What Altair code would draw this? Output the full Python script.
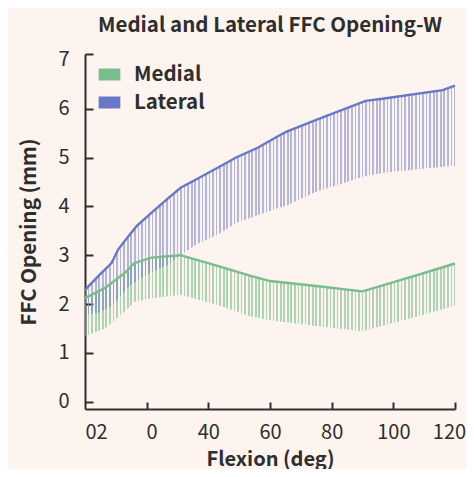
import altair as alt
import pandas as pd

# ---- data ----
series_names = ["Medial", "Lateral"]
series_colors = ["#78bd8b", "#6878c6"]

flexion_medial = [0, 6.5, 13, 16, 21.6, 31, 43, 53.5, 60, 75, 90, 105, 120]
medial_upper = [2.12, 2.33, 2.64, 2.84, 2.95, 3.0, 2.78, 2.58, 2.47, 2.37, 2.26, 2.54, 2.83]
medial_lower = [1.34, 1.50, 1.85, 2.04, 2.12, 2.19, 1.98, 1.75, 1.67, 1.55, 1.44, 1.70, 1.97]

flexion_lateral = [0, 4.3, 8.6, 10.8, 14.1, 16.8, 21.6, 27, 31, 36, 43, 49, 56, 63, 65.4, 75, 91, 97, 116, 120]
lateral_upper = [2.29, 2.57, 2.84, 3.12, 3.39, 3.60, 3.87, 4.17, 4.38, 4.55, 4.79, 5.0, 5.2, 5.45, 5.53, 5.77, 6.16, 6.21, 6.38, 6.47]
lateral_lower = [1.78, 1.82, 1.95, 2.1, 2.35, 2.47, 2.65, 2.81, 3.0, 3.22, 3.42, 3.66, 3.82, 3.97, 4.02, 4.3, 4.62, 4.69, 4.81, 4.83]

x_tick_values = [0, 20, 40, 60, 80, 100, 120]
x_tick_labels = ["02", "0", "40", "60", "80", "100", "120"]
y_tick_values = [0, 1, 2, 3, 4, 5, 6, 7]

# ---- styling ----
X_DOMAIN = [0, 120]
Y_DOMAIN = [-0.15, 7.12]
W, H = 370, 355
FONT = "Noto Sans CJK SC"
INK = "#2e2e2e"
BG = "#fdf4ef"
N_STRIPES = 104
STRIPE_HALF = 0.85 / W
TICK_FS = 20
TITLE_FS = 20.5

df = pd.concat([
    pd.DataFrame({"flex": flexion_medial, "upper": medial_upper, "lower": medial_lower, "series": series_names[0]}),
    pd.DataFrame({"flex": flexion_lateral, "upper": lateral_upper, "lower": lateral_lower, "series": series_names[1]}),
], ignore_index=True)


def stripes(color):
    stops = []
    for k in range(N_STRIPES + 1):
        c = k / N_STRIPES
        a = max(0.0, c - STRIPE_HALF)
        b = min(1.0, c + STRIPE_HALF)
        stops += [
            alt.GradientStop(offset=a, color="transparent"),
            alt.GradientStop(offset=a, color=color),
            alt.GradientStop(offset=b, color=color),
            alt.GradientStop(offset=b, color="transparent"),
        ]
    return alt.LinearGradient(gradient="linear", stops=stops, x1=0, x2=1, y1=0, y2=0)


label_expr = "''"
for v, t in reversed(list(zip(x_tick_values, x_tick_labels))):
    label_expr = f"datum.value == {v} ? '{t}' : ({label_expr})"

x_main = alt.X(
    "flex:Q",
    scale=alt.Scale(domain=X_DOMAIN, nice=False, zero=False),
    axis=alt.Axis(
        values=x_tick_values, labelExpr=label_expr, labelFlush=False,
        labelAlign={"condition": {"test": "datum.value == 0", "value": "left"}, "value": "center"},
        labelOffset={"condition": [{"test": "datum.value == 20", "value": 5},
                                   {"test": "datum.value == 120", "value": -6}], "value": 0},
        ticks=False, grid=False, domainColor=INK, domainWidth=2,
        labelFont=FONT, labelFontSize=TICK_FS, labelColor=INK, labelPadding=13,
        title="Flexion (deg)", titleFont=FONT, titleFontSize=20, titleFontWeight="bold",
        titleColor=INK, titlePadding=7,
    ),
)
y_main_axis = alt.Axis(
    values=y_tick_values, ticks=False, grid=False, domainColor=INK, domainWidth=2,
    labelFont=FONT, labelFontSize=TICK_FS, labelColor=INK, labelPadding=16, labelFlush=False,
    title="FFC Opening (mm)", titleFont=FONT, titleFontSize=TITLE_FS, titleFontWeight="bold",
    titleColor=INK, titlePadding=18,
)
y_scale = alt.Scale(domain=Y_DOMAIN, nice=False, zero=False)

base = alt.Chart(df)

areas = []
for name, color, op in zip(series_names, series_colors, [0.6, 0.5]):
    areas.append(
        base.transform_filter(alt.datum.series == name)
        .mark_area(fill=stripes(color), fillOpacity=op, strokeWidth=0)
        .encode(x=x_main, y=alt.Y("upper:Q", scale=y_scale, axis=y_main_axis), y2="lower:Q")
    )

lines = base.mark_line(strokeWidth=2.4).encode(
    x=x_main,
    y=alt.Y("upper:Q", scale=y_scale, axis=y_main_axis),
    color=alt.Color(
        "series:N",
        scale=alt.Scale(domain=series_names, range=series_colors),
        legend=alt.Legend(
            title=None, orient="none", legendX=11, legendY=7, padding=0,
            symbolType="M-1,-0.33H1M-1,0H1M-1,0.33H1", symbolSize=470, symbolStrokeWidth=5,
            symbolOpacity=1,
            labelFont=FONT, labelFontSize=TITLE_FS, labelFontWeight="bold", labelColor=INK,
            labelOffset=11, rowPadding=-2,
        ),
    ),
    detail="series:N",
)

inner = alt.layer(*areas, lines)

tick_layer = base.mark_line(opacity=0).encode(
    x=alt.X("flex:Q", scale=alt.Scale(domain=X_DOMAIN, nice=False, zero=False),
            axis=alt.Axis(orient="top", offset=-H, values=x_tick_values[1:], labels=False, domain=False,
                          ticks=True, tickSize=7, tickWidth=2, tickColor=INK, grid=False, title=None)),
    y=alt.Y("upper:Q", scale=alt.Scale(domain=Y_DOMAIN, nice=False, zero=False),
            axis=alt.Axis(orient="right", offset=-W, values=y_tick_values[:-1] + [Y_DOMAIN[1]], labels=False,
                          domain=False, ticks=True, tickSize=8, tickWidth=2, tickColor=INK, grid=False,
                          title=None)),
    detail="series:N",
)

chart = (
    alt.layer(inner, tick_layer)
    .resolve_scale(x="independent", y="independent")
    .properties(
        width=W, height=H, background=BG,
        autosize=alt.AutoSizeParams(type="none"),
        padding={"left": 77, "top": 46, "right": 11, "bottom": 60},
        title=alt.TitleParams("Medial and Lateral FFC Opening-W", font=FONT, fontSize=TITLE_FS,
                              fontWeight="bold", color=INK, anchor="middle", offset=13),
    )
    .configure_view(stroke=None)
)

chart.save("out.html", embed_options={"renderer": "svg", "actions": False})
